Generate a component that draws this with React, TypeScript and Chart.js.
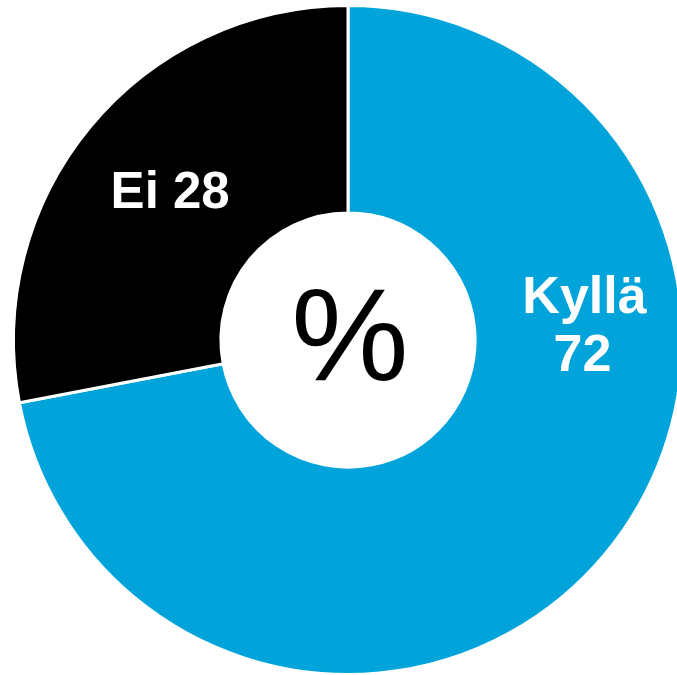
import React, { useEffect, useRef } from "react";
import { Chart, registerables } from "chart.js";

Chart.register(...registerables);

const categories = ["Kyllä", "Ei"];
const values = [72, 28];
const colors = ["#00A4DB", "#000000"];
const centerText = "%";

const labelPlugin = {
  id: "sliceLabels",
  afterDatasetsDraw(chart: any) {
    const ctx = chart.ctx;
    const meta = chart.getDatasetMeta(0);
    const arc0 = meta.data[0] as any;
    const cx = arc0.x;
    const cy = arc0.y;
    const R = arc0.outerRadius;
    ctx.save();
    ctx.textAlign = "center";
    ctx.textBaseline = "middle";
    // Kyllä label
    {
      const ang = (-90 + 87) * Math.PI / 180;
      const r = R * 0.705;
      const x = cx + Math.cos(ang) * r;
      const y = cy + Math.sin(ang) * r;
      ctx.fillStyle = "#ffffff";
      ctx.font = "bold 52px 'Liberation Sans', Arial, sans-serif";
      ctx.fillText(categories[0], x + 1, y - 29);
      ctx.fillText(String(values[0]), x - 1, y + 29);
    }
    // Ei label
    {
      const a = meta.data[1] as any;
      const mid = (a.startAngle + a.endAngle) / 2;
      const r = R * 0.69;
      const x = cx + Math.cos(mid) * r;
      const y = cy + Math.sin(mid) * r;
      ctx.fillStyle = "#ffffff";
      ctx.font = "bold 51px 'Liberation Sans', Arial, sans-serif";
      ctx.fillText(categories[1] + " " + values[1], x, y + 1);
    }
    // Center text
    ctx.fillStyle = "#000000";
    ctx.font = "132px 'Liberation Sans', Arial, sans-serif";
    ctx.fillText(centerText, cx + 2, cy + 4);
    ctx.restore();
  },
};

export default function App() {
  const ref = useRef<HTMLCanvasElement>(null);
  useEffect(() => {
    if (!ref.current) return;
    const chart = new Chart(ref.current, {
      type: "doughnut",
      data: {
        labels: categories,
        datasets: [
          {
            data: values,
            backgroundColor: colors,
            borderColor: "#ffffff",
            borderWidth: 3,
          },
        ],
      },
      options: {
        responsive: false,
        animation: false,
        cutout: "38%",
        layout: { padding: 4 },
        plugins: {
          legend: { display: false },
          tooltip: { enabled: false },
        },
      },
      plugins: [labelPlugin],
    });
    return () => chart.destroy();
  }, []);
  return (
    <div style={{ position: "fixed", left: 0, top: 0, width: 696, height: 680, background: "#fff" }}>
      <canvas ref={ref} width={696} height={680} style={{ width: 696, height: 680, display: "block" }} />
    </div>
  );
}
